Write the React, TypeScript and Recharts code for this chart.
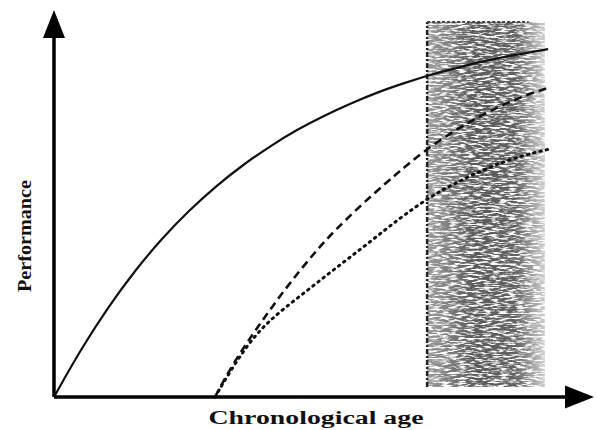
import { LineChart, Line, XAxis, YAxis, ReferenceLine, ReferenceArea, ReferenceDot } from "recharts";

// chronological age (0-100) and performance (0-100)
const solidAge = [0, 5, 10, 15, 20, 25, 30, 35, 40, 45, 50, 55, 60, 65, 70, 75, 80, 85, 91.5];
const solidPerf = [0, 12.4, 23.2, 32.7, 41.0, 48.2, 54.5, 60.0, 64.8, 69.1, 72.7, 75.9, 78.8, 81.2, 83.4, 85.2, 86.9, 88.3, 89.9];

const dashedAge = [29.8, 33.1, 36.3, 39.4, 42.4, 45.6, 48.7, 51.7, 56.7, 61.7, 64.1, 67.8, 73.9, 80.2, 86.3, 91.3];
const dashedPerf = [0, 8.5, 15.2, 21.4, 27.1, 32.8, 38.0, 42.6, 49.4, 55.6, 58.4, 62.8, 68.7, 73.6, 77.5, 79.8];

const dottedAge = [29.8, 35.0, 39.4, 45.6, 51.7, 58.0, 64.1, 69.6, 73.9, 80.2, 86.3, 91.9];
const dottedPerf = [0, 12.1, 19.4, 26.1, 32.8, 39.5, 46.3, 51.7, 55.0, 59.2, 62.3, 64.1];

// shaded band (old-age zone)
const bandAge = [69.1, 90.9];
const bandPerf = [2.6, 96.9];

const toPoints = (ages: number[], perf: number[]) => ages.map((a, i) => ({ age: a, perf: perf[i] }));

const solid = toPoints(solidAge, solidPerf);
const dashed = toPoints(dashedAge, dashedPerf);
const dotted = toPoints(dottedAge, dottedPerf);

const font = "Liberation Serif, Times New Roman, serif";

const ArrowUp = (p: any) => (
  <polygon points={`${p.cx},${p.cy} ${p.cx - 11},${p.cy + 28} ${p.cx + 11},${p.cy + 28}`} fill="#000" />
);
const ArrowRight = (p: any) => (
  <polygon points={`${p.cx},${p.cy} ${p.cx - 29},${p.cy - 11.5} ${p.cx - 29},${p.cy + 11.5}`} fill="#000" />
);

const Band = (p: any) => (
  <rect x={p.x} y={p.y} width={p.width} height={p.height} fill="url(#bandFade)" filter="url(#grain)" />
);

export default function App() {
  return (
    <div style={{ position: "relative", width: 597, height: 430, background: "#fff" }}>
      <style>{`body{margin:0}`}</style>
      <LineChart width={597} height={430} margin={{ top: 10, right: 3, bottom: 33, left: 54 }}>
        <defs>
          <linearGradient id="bandFade" x1="0" y1="0" x2="1" y2="0">
            <stop offset="0%" stopColor="#000" stopOpacity={0.6} />
            <stop offset="40%" stopColor="#000" stopOpacity={1} />
            <stop offset="75%" stopColor="#000" stopOpacity={0.95} />
            <stop offset="100%" stopColor="#000" stopOpacity={0.3} />
          </linearGradient>
          <filter id="grain" x="0" y="0" width="1" height="1">
            <feTurbulence type="fractalNoise" baseFrequency="0.12 0.55" numOctaves={3} seed={7} result="t" />
            <feColorMatrix in="t" type="matrix" values="0 0 0 0 0.1  0 0 0 0 0.1  0 0 0 0 0.1  4.4 0 0 0 -1.45" result="n" />
            <feComposite in="n" in2="SourceGraphic" operator="in" />
          </filter>
        </defs>
        <XAxis type="number" dataKey="age" domain={[0, 100]} hide />
        <YAxis type="number" dataKey="perf" domain={[0, 100]} hide />

        <ReferenceArea x1={bandAge[0]} x2={bandAge[1]} y1={bandPerf[0]} y2={bandPerf[1]} shape={Band} ifOverflow="visible" />
        <ReferenceLine
          segment={[{ x: bandAge[0], y: bandPerf[0] }, { x: bandAge[0], y: bandPerf[1] }]}
          stroke="#222" strokeWidth={2.5} strokeDasharray="5 2 2 2"
        />
        <ReferenceLine
          segment={[{ x: bandAge[0], y: bandPerf[1] }, { x: bandAge[1] - 3, y: bandPerf[1] }]}
          stroke="#444" strokeWidth={2} strokeDasharray="3 2"
        />

        <Line data={solid} dataKey="perf" type="basis" stroke="#111" strokeWidth={2.2} dot={false} isAnimationActive={false} />
        <Line data={dashed} dataKey="perf" type="basis" stroke="#111" strokeWidth={2.6} strokeDasharray="8 5" dot={false} isAnimationActive={false} />
        <Line data={dotted} dataKey="perf" type="basis" stroke="#111" strokeWidth={3} strokeDasharray="1.5 5" strokeLinecap="round" dot={false} isAnimationActive={false} />

        <ReferenceLine segment={[{ x: 0, y: 0 }, { x: 96, y: 0 }]} stroke="#000" strokeWidth={3.5} ifOverflow="visible" />
        <ReferenceLine segment={[{ x: 0, y: 0 }, { x: 0, y: 93 }]} stroke="#000" strokeWidth={3.5} ifOverflow="visible" />
        <ReferenceDot x={100} y={0} shape={ArrowRight} ifOverflow="visible" />
        <ReferenceDot x={0} y={100} shape={ArrowUp} ifOverflow="visible" />
      </LineChart>
      <svg width={597} height={430} style={{ position: "absolute", left: 0, top: 0, pointerEvents: "none" }}>
        <text x={316} y={424} textAnchor="middle" fontFamily={font} fontWeight="bold" fontSize={18} fill="#111" textLength={215} lengthAdjust="spacingAndGlyphs">
          Chronological age
        </text>
        <text x={0} y={0} transform="translate(31,236) rotate(-90)" textAnchor="middle" fontFamily={font} fontWeight="bold" fontSize={18} fill="#111" textLength={112} lengthAdjust="spacingAndGlyphs">
          Performance
        </text>
      </svg>
    </div>
  );
}
